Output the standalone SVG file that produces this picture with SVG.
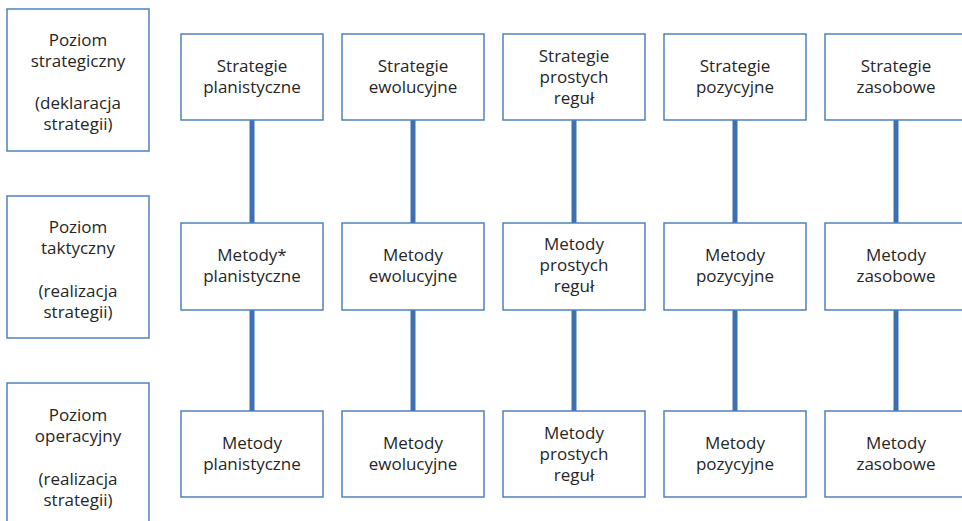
<svg xmlns="http://www.w3.org/2000/svg" width="962" height="521" viewBox="0 0 962 521">
  <style>
    .box { fill: #ffffff; stroke: #4f81bd; stroke-width: 1.5; }
    .link { stroke: #3d6fb3; stroke-width: 5; fill: none; }
    text { font-family: "Open Sans", "Noto Sans", "Liberation Sans", sans-serif; font-size: 17px; fill: #262626; text-anchor: middle; }
  </style>

  <!-- vertical connectors, drawn behind the boxes -->
  <g id="connectors">
    <line class="link" x1="252" y1="120" x2="252" y2="411"/>
    <line class="link" x1="413" y1="120" x2="413" y2="411"/>
    <line class="link" x1="574" y1="120" x2="574" y2="411"/>
    <line class="link" x1="735" y1="120" x2="735" y2="411"/>
    <line class="link" x1="896" y1="120" x2="896" y2="411"/>
  </g>

  <!-- level labels -->
  <g id="level-strategic">
    <rect class="box" x="7" y="9" width="142" height="142"/>
    <text x="78" y="46">Poziom</text>
    <text x="78" y="67">strategiczny</text>
    <text x="78" y="109">(deklaracja</text>
    <text x="78" y="130">strategii)</text>
  </g>
  <g id="level-tactical">
    <rect class="box" x="7" y="196" width="142" height="142"/>
    <text x="78" y="233">Poziom</text>
    <text x="78" y="254">taktyczny</text>
    <text x="78" y="297">(realizacja</text>
    <text x="78" y="318">strategii)</text>
  </g>
  <g id="level-operational">
    <rect class="box" x="7" y="383" width="142" height="150"/>
    <text x="78" y="421">Poziom</text>
    <text x="78" y="442">operacyjny</text>
    <text x="78" y="485">(realizacja</text>
    <text x="78" y="506">strategii)</text>
  </g>

  <!-- strategy row -->
  <g id="s-plan">
    <rect class="box" x="181" y="34" width="142" height="86"/>
    <text x="252" y="72">Strategie</text>
    <text x="252" y="93">planistyczne</text>
  </g>
  <g id="s-ewo">
    <rect class="box" x="342" y="34" width="142" height="86"/>
    <text x="413" y="72">Strategie</text>
    <text x="413" y="93">ewolucyjne</text>
  </g>
  <g id="s-reg">
    <rect class="box" x="503" y="34" width="142" height="86"/>
    <text x="574" y="62">Strategie</text>
    <text x="574" y="83">prostych</text>
    <text x="574" y="104">reguł</text>
  </g>
  <g id="s-poz">
    <rect class="box" x="664" y="34" width="142" height="86"/>
    <text x="735" y="72">Strategie</text>
    <text x="735" y="93">pozycyjne</text>
  </g>
  <g id="s-zas">
    <rect class="box" x="825" y="34" width="142" height="86"/>
    <text x="896" y="72">Strategie</text>
    <text x="896" y="93">zasobowe</text>
  </g>

  <!-- tactical row -->
  <g id="t-plan">
    <rect class="box" x="181" y="223" width="142" height="87"/>
    <text x="252" y="261">Metody*</text>
    <text x="252" y="282">planistyczne</text>
  </g>
  <g id="t-ewo">
    <rect class="box" x="342" y="223" width="142" height="87"/>
    <text x="413" y="261">Metody</text>
    <text x="413" y="282">ewolucyjne</text>
  </g>
  <g id="t-reg">
    <rect class="box" x="503" y="223" width="142" height="87"/>
    <text x="574" y="250">Metody</text>
    <text x="574" y="271">prostych</text>
    <text x="574" y="292">reguł</text>
  </g>
  <g id="t-poz">
    <rect class="box" x="664" y="223" width="142" height="87"/>
    <text x="735" y="261">Metody</text>
    <text x="735" y="282">pozycyjne</text>
  </g>
  <g id="t-zas">
    <rect class="box" x="825" y="223" width="142" height="87"/>
    <text x="896" y="261">Metody</text>
    <text x="896" y="282">zasobowe</text>
  </g>

  <!-- operational row -->
  <g id="o-plan">
    <rect class="box" x="181" y="411" width="142" height="86"/>
    <text x="252" y="449">Metody</text>
    <text x="252" y="470">planistyczne</text>
  </g>
  <g id="o-ewo">
    <rect class="box" x="342" y="411" width="142" height="86"/>
    <text x="413" y="449">Metody</text>
    <text x="413" y="470">ewolucyjne</text>
  </g>
  <g id="o-reg">
    <rect class="box" x="503" y="411" width="142" height="86"/>
    <text x="574" y="439">Metody</text>
    <text x="574" y="460">prostych</text>
    <text x="574" y="481">reguł</text>
  </g>
  <g id="o-poz">
    <rect class="box" x="664" y="411" width="142" height="86"/>
    <text x="735" y="449">Metody</text>
    <text x="735" y="470">pozycyjne</text>
  </g>
  <g id="o-zas">
    <rect class="box" x="825" y="411" width="142" height="86"/>
    <text x="896" y="449">Metody</text>
    <text x="896" y="470">zasobowe</text>
  </g>
</svg>
